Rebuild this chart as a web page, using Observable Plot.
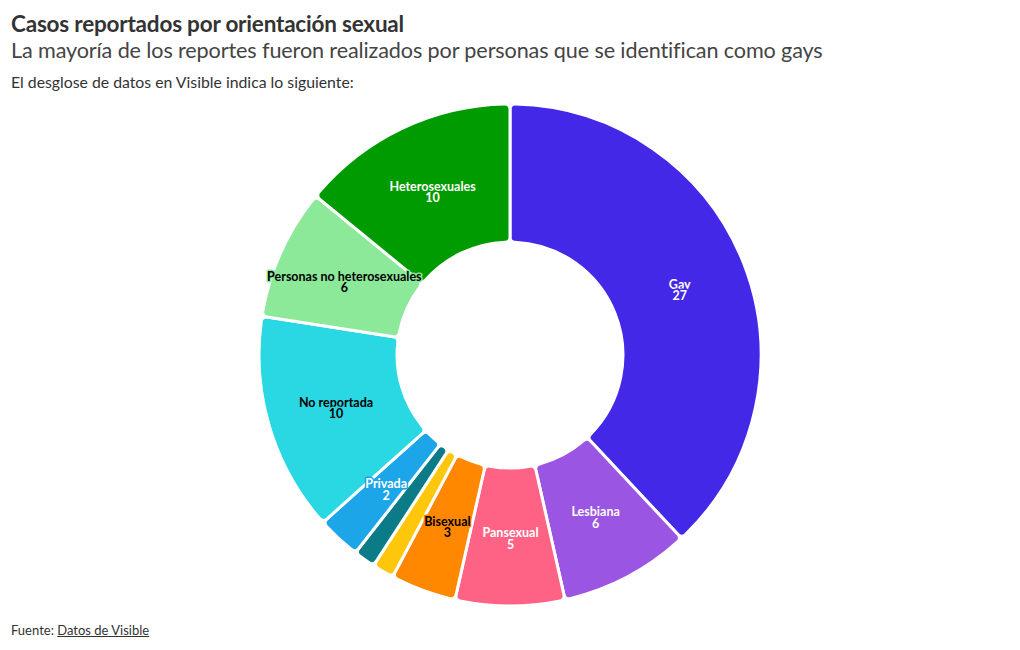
<!DOCTYPE html>
<html>
<head>
<meta charset="utf-8">
<script src="https://cdn.jsdelivr.net/npm/d3@7"></script>
<script src="https://cdn.jsdelivr.net/npm/@observablehq/plot@0.6"></script>
<style>
  body { margin: 0; background: #fff; font-family: Lato, "Noto Sans", sans-serif; color: #333; }
  #wrap { position: relative; width: 1020px; height: 650px; overflow: hidden; }
  .title { position: absolute; left: 11px; top: 10px; font-size: 22.5px; font-weight: 700; color: #333; letter-spacing: -0.2px; white-space: nowrap; }
  .subtitle { position: absolute; left: 11px; top: 37px; font-size: 21.6px; color: #444; letter-spacing: -0.12px; white-space: nowrap; }
  .note { position: absolute; left: 11px; top: 72px; font-size: 15.8px; color: #333; white-space: nowrap; }
  .footer { position: absolute; left: 11px; top: 622px; font-size: 13px; color: #333; }
  .footer u { text-decoration: underline; }
  #chart { position: absolute; left: 0; top: 95px; }
</style>
</head>
<body>
<div id="wrap">
  <div class="title">Casos reportados por orientación sexual</div>
  <div class="subtitle">La mayoría de los reportes fueron realizados por personas que se identifican como gays</div>
  <div class="note">El desglose de datos en Visible indica lo siguiente:</div>
  <div id="chart"></div>
  <div class="footer">Fuente: <u>Datos de Visible</u></div>
</div>
<script>
const categories = ["Gay", "Lesbiana", "Pansexual", "Bisexual", "Asexual", "Queer", "Privada", "No reportada", "Personas no heterosexuales", "Heterosexuales"];
const values = [27, 6, 5, 3, 1, 1, 2, 10, 6, 10];
const colors = ["#4328e7", "#9b55e3", "#fe6386", "#ff8800", "#fec70c", "#0a7b87", "#1da5ea", "#29d8e3", "#8de99a", "#009b00"];
const darkTextCategories = ["Bisexual", "No reportada", "Personas no heterosexuales"];

const data = categories.map((name, i) => ({name, value: values[i]}));
const pie = d3.pie().sort(null).value(d => d.value);
const arcs = pie(data);
const inner = 0.45;
const rMid = (1 + inner) / 2;
arcs.forEach(a => {
  const m = (a.startAngle + a.endAngle) / 2;
  a.name = a.data.name;
  a.value = a.data.value;
  a.lx = rMid * Math.sin(m);
  a.ly = rMid * Math.cos(m);
});

const W = 1020, H = 520, R = 251;
const labels = arcs.filter(a => a.value >= 2);

const textOpts = {
  x: "lx", y: "ly",
  text: d => `${d.name}\n${d.value}`,
  stroke: "name",
  strokeWidth: 3,
  fontSize: 12.5,
  fontWeight: 700,
  lineHeight: 0.9,
  dy: 2
};

const plot = Plot.plot({
  width: W,
  height: H,
  margin: 0,
  x: {domain: [-(W / 2) / R, (W / 2) / R], axis: null},
  y: {domain: [-(H / 2) / R, (H / 2) / R], axis: null},
  color: {domain: categories, range: colors},
  style: {fontFamily: "Lato, 'Noto Sans', sans-serif", background: "transparent"},
  marks: [
    Plot.dot(arcs, {
      x: () => 0,
      y: () => 0,
      fill: "name",
      render: (I, scales, vals) => {
        const cx = scales.x(0), cy = scales.y(0);
        const r = Math.abs(scales.x(1) - scales.x(0));
        const arc = d3.arc().innerRadius(r * inner).outerRadius(r).cornerRadius(5);
        const g = d3.create("svg:g").attr("transform", `translate(${cx},${cy})`);
        g.selectAll("path").data(I).join("path")
          .attr("d", i => arc(arcs[i]))
          .attr("fill", i => vals.fill[i])
          .attr("stroke", "white")
          .attr("stroke-width", 3)
          .attr("stroke-linejoin", "round");
        return g.node();
      }
    }),
    Plot.text(labels.filter(a => !darkTextCategories.includes(a.name)), {...textOpts, fill: "white"}),
    Plot.text(labels.filter(a => darkTextCategories.includes(a.name)), {...textOpts, fill: "black"})
  ]
});
document.getElementById("chart").appendChild(plot);
</script>
</body>
</html>
